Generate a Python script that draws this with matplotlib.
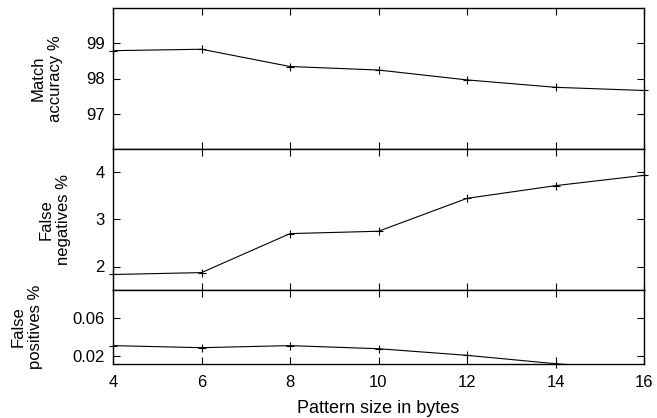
import numpy as np
import matplotlib
matplotlib.use("Agg")
import matplotlib.pyplot as plt

plt.rcParams["font.family"] = ["Liberation Sans", "DejaVu Sans"]
plt.rcParams["font.size"] = 12

# pattern sizes (bytes)
pattern_size = [4, 6, 8, 10, 12, 14, 16]

# values
match_accuracy = [98.79, 98.83, 98.34, 98.24, 97.96, 97.75, 97.66]
false_negatives = [1.83, 1.87, 2.70, 2.75, 3.45, 3.72, 3.94]
false_positives = [0.031, 0.0288, 0.031, 0.0277, 0.0207, 0.0118, 0.005]

panels = [
    (match_accuracy, "Match\naccuracy %", (96, 100), [97, 98, 99], None, 47),
    (false_negatives, "False\nnegatives %", (1.5, 4.5), [2, 3, 4], None, 55),
    (false_positives, "False\npositives %", (0.0115, 0.09), [0.02, 0.06], "%.2f", 27),
]

W, H = 657, 418
fig = plt.figure(figsize=(W / 100, H / 100), dpi=100)

left, right = 113, 644
edges = [8, 149, 290, 364]  # pixel rows of panel boundaries

axes = []
for i, (vals, label, ylim, ticks, fmt, label_x) in enumerate(panels):
    top_px, bot_px = edges[i], edges[i + 1]
    ax = fig.add_axes([left / W, 1 - bot_px / H, (right - left) / W, (bot_px - top_px) / H])
    x = np.array(pattern_size)
    y = np.array(vals)
    ax.plot(x, y, color="black", lw=0.8)
    inside = (y >= ylim[0] - 1e-9) & (y <= ylim[1])
    ax.plot(x[inside], y[inside], ls="none", marker="+", ms=5.5, mew=0.8,
            color="black", clip_on=False)
    ax.set_xlim(4, 16)
    ax.set_ylim(*ylim)
    ax.set_yticks(ticks)
    if fmt:
        ax.set_yticklabels([fmt % t for t in ticks])
    ax.set_xticks(pattern_size)
    ax.tick_params(direction="in", top=True, right=True, length=5, width=0.8,
                   labelsize=12)
    ax.tick_params(axis="x", pad=8)
    ax.tick_params(axis="y", pad=6)
    for s in ax.spines.values():
        s.set_linewidth(1.0)
    if i < 2:
        ax.tick_params(labelbottom=False)
    cy = (top_px + bot_px) / 2
    fig.text(label_x / W, 1 - cy / H, label, rotation=90, ha="center",
             va="center", multialignment="center", fontsize=12, linespacing=1.15)
    axes.append(ax)

axes[-1].set_xlabel("Pattern size in bytes", fontsize=13, labelpad=7)

fig.savefig("out.png", dpi=100)
